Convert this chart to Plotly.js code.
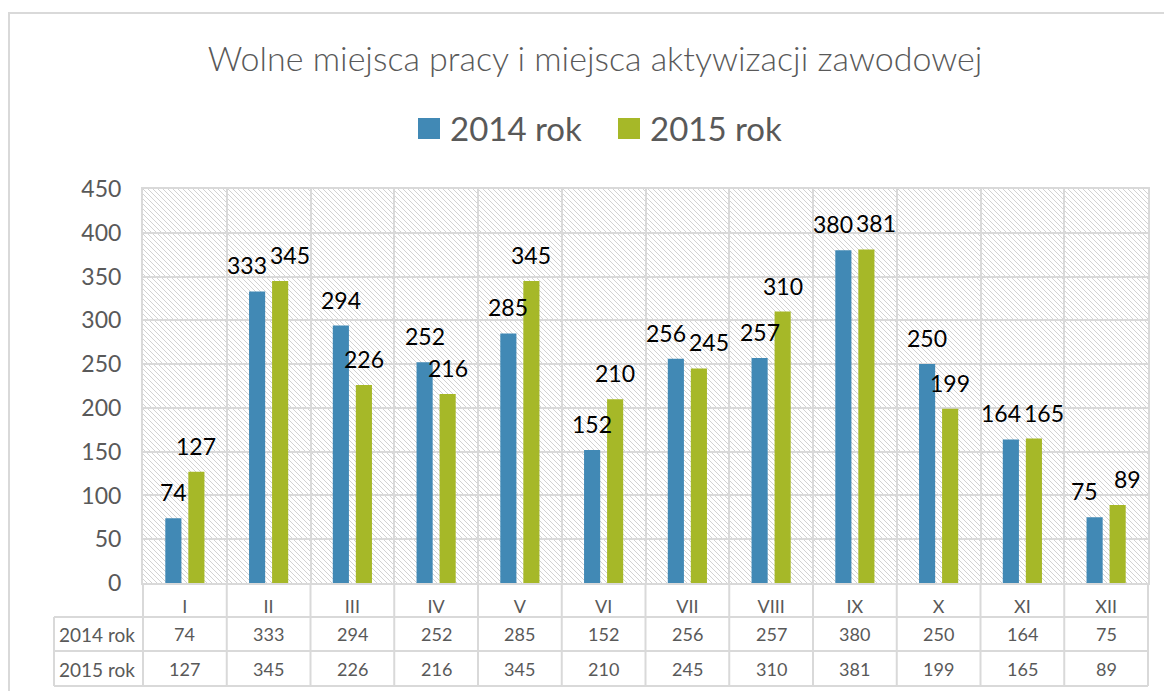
<!DOCTYPE html>
<html>
<head>
<meta charset="utf-8">
<script src="https://cdn.plot.ly/plotly-3.0.1.min.js"></script>
<style>html,body{margin:0;padding:0;background:#fff;}#chart{width:1164px;height:691px;}</style>
</head>
<body>
<div id="chart"></div>
<script>
// ---- data ----
const months = ["I","II","III","IV","V","VI","VII","VIII","IX","X","XI","XII"];
const series2014 = [74,333,294,252,285,152,256,257,380,250,164,75];
const series2015 = [127,345,226,216,345,210,245,310,381,199,165,89];
const seriesNames = ["2014 rok","2015 rok"];
const chartTitle = "Wolne miejsca pracy i miejsca aktywizacji zawodowej";

// ---- style ----
const W = 1164, H = 691;
const M = {l:143, r:16, t:189, b:108};
const PW = W - M.l - M.r, PH = H - M.t - M.b;
const colors = ["#4189b5","#a6b828"];
const grey = "#595959", lineGrey = "#d9d9d9";
const FONT = "Lato, 'Open Sans', sans-serif";
const bargap = 0.45, bargroupgap = 0.3;
const yMax = 450;

const px2x = p => (p - M.l) / PW;
const py2y = p => (H - M.b - p) / PH;

// hatch background as svg image
const svg = `<svg xmlns="http://www.w3.org/2000/svg" width="${PW}" height="${PH}"><defs><pattern id="h" patternUnits="userSpaceOnUse" width="5" height="5"><path d="M-1,-1 L6,6 M-1,4 L1,6 M4,-1 L6,1" stroke="#d2d2d2" stroke-width="1"/></pattern></defs><rect width="100%" height="100%" fill="#fff"/><rect width="100%" height="100%" fill="url(#h)"/></svg>`;
const svgUri = "data:image/svg+xml;charset=utf-8," + encodeURIComponent(svg);

const traces = [series2014, series2015].map((vals, i) => ({
  type: "bar", x: months, y: vals, name: seriesNames[i],
  marker: {color: colors[i]}, showlegend: false, hoverinfo: "x+y+name"
}));

const catW = PW / months.length;
const off = catW * (1 - bargap) / 4;
const pxPerUnit = PH / yMax;

const annotations = [];
const shapes = [];
const allSeries = [series2014, series2015];
allSeries.forEach((vals, s) => {
  vals.forEach((v, i) => {
    const other = allSeries[1 - s][i];
    const close = Math.abs(v - other) * pxPerUnit < 20;
    const extra = close ? 10 : 0;
    annotations.push({x: months[i], y: v, xref: "x", yref: "y", text: String(v),
      showarrow: false, xshift: s === 0 ? -(off + extra) : (off + extra), yshift: 26, yanchor: "middle",
      font: {family: FONT, size: 23, color: "#000"}});
    // table values
    annotations.push({x: months[i], xref: "x", yref: "paper", y: py2y(s === 0 ? 634 : 669),
      text: String(v), showarrow: false, yanchor: "middle",
      font: {family: FONT, size: 18, color: grey}});
  });
  annotations.push({x: px2x(97), xref: "paper", yref: "paper", y: py2y(s === 0 ? 634 : 669),
    xanchor: "center", text: seriesNames[s], showarrow: false, yanchor: "middle",
    font: {family: FONT, size: 19, color: grey}});
  // legend
  const sx = s === 0 ? 418 : 618;
  shapes.push({type: "rect", xref: "paper", yref: "paper", x0: px2x(sx), x1: px2x(sx + 22),
    y0: py2y(139), y1: py2y(118), fillcolor: colors[s], line: {width: 0}});
  annotations.push({x: px2x(sx + 30), xref: "paper", yref: "paper", y: py2y(128),
    xanchor: "left", yanchor: "middle", text: seriesNames[s], showarrow: false,
    font: {family: FONT, size: 33, color: grey}});
});

// table lines
const lineStyle = {color: lineGrey, width: 2};
[617, 651, 686].forEach(py => shapes.push({type: "line", xref: "paper", yref: "paper",
  x0: px2x(54), x1: 1, y0: py2y(py), y1: py2y(py), line: lineStyle}));
shapes.push({type: "line", xref: "paper", yref: "paper", x0: px2x(54), x1: px2x(54),
  y0: py2y(617), y1: py2y(686), line: lineStyle});
for (let i = 0; i <= months.length; i++) {
  shapes.push({type: "line", xref: "paper", yref: "paper", x0: i / months.length, x1: i / months.length,
    y0: 0, y1: py2y(686), line: lineStyle});
}
// outer border
shapes.push({type: "rect", xref: "paper", yref: "paper", x0: px2x(9), x1: px2x(1175),
  y0: py2y(700), y1: py2y(13), line: {color: lineGrey, width: 2}, fillcolor: "rgba(0,0,0,0)"});

const layout = {
  width: W, height: H, margin: M,
  paper_bgcolor: "#fff", plot_bgcolor: "rgba(0,0,0,0)",
  barmode: "group", bargap: bargap, bargroupgap: bargroupgap,
  title: {text: chartTitle, x: 595 / W, xref: "container", y: 1 - 59 / H, yref: "container",
    xanchor: "center", yanchor: "middle",
    font: {family: FONT, size: 34, color: grey, weight: 300}},
  xaxis: {type: "category", tickson: "boundaries", showgrid: true, gridcolor: lineGrey, gridwidth: 2,
    showline: true, linecolor: lineGrey, linewidth: 2, mirror: true, ticks: "",
    ticklabelstandoff: 6, tickfont: {family: FONT, size: 18, color: grey}},
  yaxis: {range: [0, yMax], dtick: 50, showgrid: true, gridcolor: lineGrey, gridwidth: 2,
    zeroline: false, showline: true, linecolor: lineGrey, linewidth: 2, mirror: true,
    ticks: "", ticklabelstandoff: 15, tickfont: {family: FONT, size: 23, color: grey}},
  images: [{source: svgUri, xref: "paper", yref: "paper", x: 0, y: 1, sizex: 1, sizey: 1,
    sizing: "stretch", layer: "below", xanchor: "left", yanchor: "top"}],
  annotations: annotations, shapes: shapes, showlegend: false
};

Plotly.newPlot("chart", traces, layout, {displayModeBar: false, staticPlot: true});
</script>
</body>
</html>
